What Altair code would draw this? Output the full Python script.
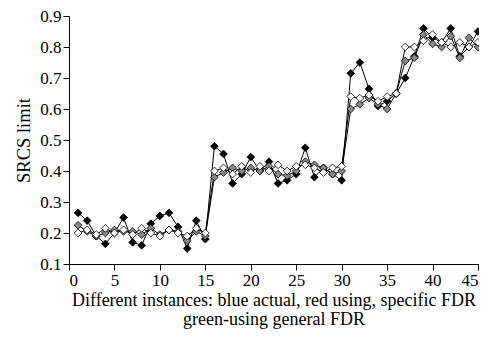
import altair as alt
import pandas as pd

instances = list(range(1, 46))
actual = [0.265, 0.24, 0.19, 0.165, 0.20, 0.25, 0.17, 0.16, 0.23, 0.255,
          0.265, 0.22, 0.15, 0.24, 0.18,
          0.48, 0.455, 0.36, 0.39, 0.445, 0.40, 0.43, 0.36, 0.37, 0.39,
          0.475, 0.38, 0.41, 0.39, 0.37,
          0.715, 0.75, 0.665, 0.61, 0.625, 0.65, 0.70, 0.77, 0.86, 0.83,
          0.815, 0.86, 0.77, 0.80, 0.85]
specific = [0.20, 0.21, 0.195, 0.215, 0.20, 0.21, 0.195, 0.215, 0.20, 0.19,
            0.21, 0.20, 0.19, 0.215, 0.20,
            0.40, 0.41, 0.39, 0.415, 0.395, 0.415, 0.40, 0.42, 0.40, 0.415,
            0.42, 0.41, 0.395, 0.41, 0.415,
            0.64, 0.635, 0.645, 0.625, 0.64, 0.65, 0.80, 0.80, 0.82, 0.84,
            0.815, 0.80, 0.815, 0.80, 0.815]
general = [0.225, 0.205, 0.19, 0.20, 0.21, 0.205, 0.205, 0.195, 0.215, 0.195,
           0.21, 0.205, 0.175, 0.205, 0.19,
           0.38, 0.395, 0.41, 0.40, 0.41, 0.40, 0.415, 0.39, 0.385, 0.40,
           0.43, 0.42, 0.41, 0.39, 0.40,
           0.60, 0.615, 0.635, 0.615, 0.60, 0.65, 0.755, 0.765, 0.84, 0.81,
           0.80, 0.835, 0.765, 0.83, 0.80]

series_names = ["actual", "general", "specific"]
series_fill = ["#000000", "#888888", "#ffffff"]

rows = []
for name, vals in zip(series_names, [actual, general, specific]):
    for i, v in zip(instances, vals):
        rows.append({"instance": i, "value": v, "series": name})
df = pd.DataFrame(rows)

FONT = "Liberation Serif, Times New Roman, serif"

x = alt.X("instance:Q",
          scale=alt.Scale(domain=[0, 45], nice=False, zero=False),
          axis=alt.Axis(values=list(range(0, 46, 5)),
                        title=["Different instances: blue actual, red using, specific FDR",
                               "green-using general FDR"],
                        titlePadding=3, titleFontSize=18, titleLineHeight=19))
y = alt.Y("value:Q",
          scale=alt.Scale(domain=[0.1, 0.9], nice=False, zero=False),
          axis=alt.Axis(values=[round(0.1 * k, 1) for k in range(1, 10)],
                        format=".1f", title="SRCS limit", titlePadding=6,
                        titleFontSize=18.5))

base = alt.Chart(df)
lines = base.mark_line(color="black", strokeWidth=1).encode(
    x=x, y=y, detail="series:N")
points = base.mark_point(shape="diamond", filled=True, size=60,
                         stroke="black", strokeWidth=0.8, opacity=1).encode(
    x=x, y=y,
    fill=alt.Fill("series:N",
                  scale=alt.Scale(domain=series_names, range=series_fill),
                  legend=None),
    order=alt.Order("series:N"))

chart = alt.layer(lines, points).properties(
    width=409, height=248,
    autosize=alt.AutoSizeParams(type="none"),
    padding={"left": 61, "top": 8, "right": 1, "bottom": 65},
    background="white",
).configure_view(stroke=None).configure_axis(
    grid=False,
    domainColor="black",
    tickColor="black",
    labelColor="black",
    titleColor="black",
    labelFont=FONT,
    titleFont=FONT,
    labelFontSize=17,
    titleFontWeight="normal",
    tickSize=6,
    labelPadding=2,
)

chart.save("out.html", embed_options={"renderer": "svg", "actions": False})
